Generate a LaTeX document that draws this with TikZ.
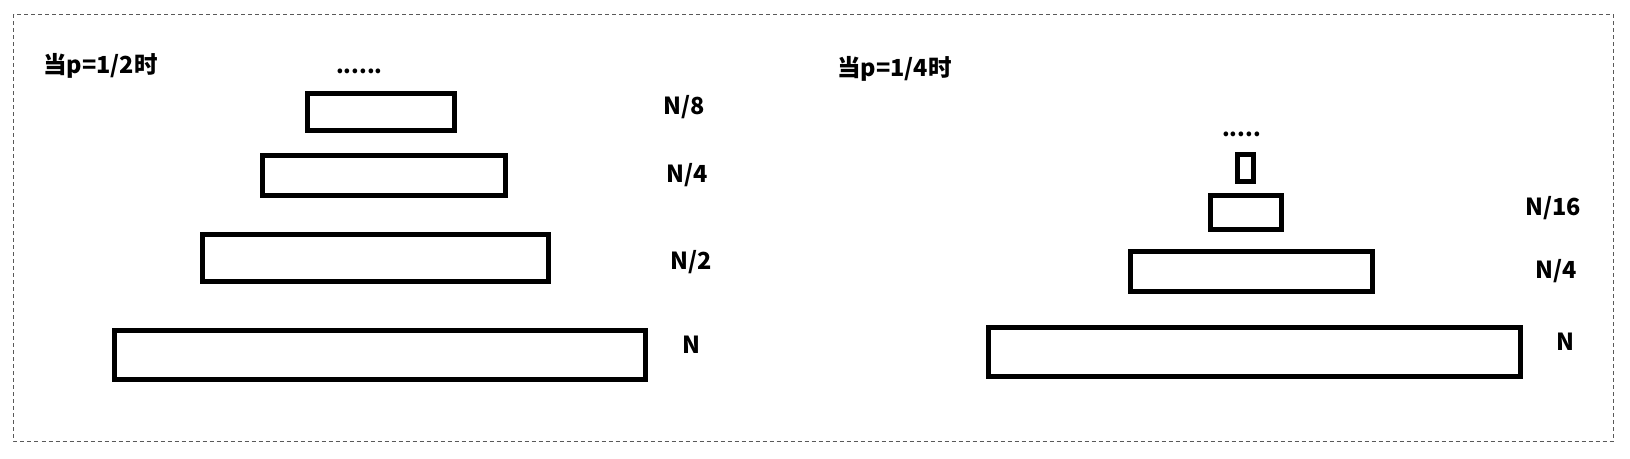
\documentclass[tikz,border=0pt]{standalone}
\usepackage{fontspec}
\setmainfont{Noto Sans CJK SC}
\begin{document}
\begin{tikzpicture}[x=1pt,y=-1pt,
  blk/.style={draw=black,line width=4.7pt,rectangle,inner sep=0pt,fill=white},
  ttl/.style={anchor=base west,inner sep=0pt,font=\fontsize{23.5}{27}\selectfont\bfseries},
  lbl/.style={anchor=base west,inner sep=0pt,font=\fontsize{23.5}{27}\selectfont\bfseries},
  dts/.style={anchor=base west,inner sep=0pt,font=\fontsize{22}{26}\selectfont\bfseries}]
\useasboundingbox (0,0) rectangle (1630,458);
\draw[gray!70!black,line width=1pt,dash pattern=on 4pt off 3pt] (13.5,14) rectangle (1613,441);
% left panel
\node[ttl] (t1) at (43,73) {当p=1/2时};
\node[dts] (d1) at (336,73) {......};
\node[blk,minimum width=147.5pt,minimum height=37pt] (a1) at (381,111.75) {};
\node[blk,minimum width=242.5pt,minimum height=40pt] (a2) at (384,175.25) {};
\node[blk,minimum width=346.5pt,minimum height=47.5pt] (a3) at (375.5,258) {};
\node[blk,minimum width=531.5pt,minimum height=48.5pt] (a4) at (380,355) {};
\node[lbl] (l1) at (663,114) {N/8};
\node[lbl] (l2) at (666,182) {N/4};
\node[lbl] (l3) at (670,269) {N/2};
\node[lbl] (l4) at (682,353) {N};
% right panel
\node[ttl] (t2) at (837,76.5) {当p=1/4时};
\node[dts] (d2) at (1222,136) {.....};
\node[blk,minimum width=15.5pt,minimum height=27.5pt] (b0) at (1245.5,168) {};
\node[blk,minimum width=71.5pt,minimum height=34.5pt] (b1) at (1246,212.5) {};
\node[blk,minimum width=242.5pt,minimum height=40.5pt] (b2) at (1251.5,271.5) {};
\node[blk,minimum width=532pt,minimum height=49pt] (b3) at (1254.75,352.25) {};
\node[lbl] (r1) at (1525,215) {N/16};
\node[lbl] (r2) at (1535,278) {N/4};
\node[lbl] (r3) at (1556,350) {N};
\end{tikzpicture}
\end{document}
